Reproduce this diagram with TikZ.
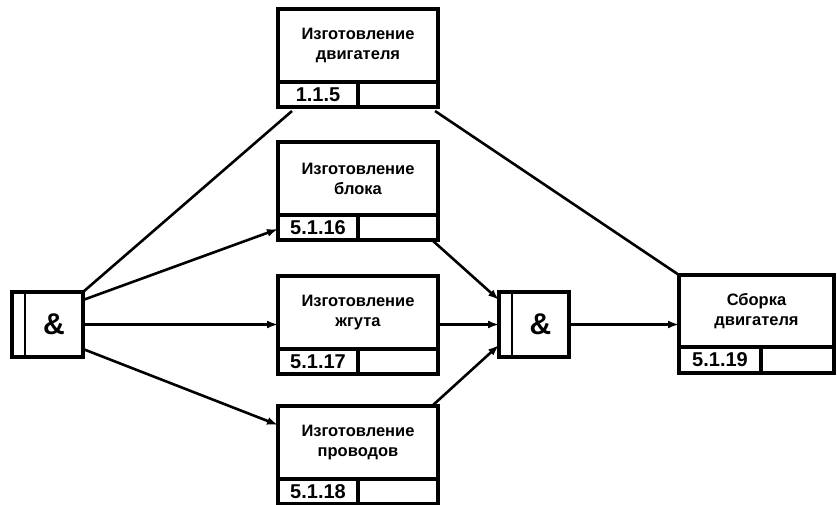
\documentclass[tikz,border=0pt]{standalone}
\usepackage{fontspec}
\setmainfont{Liberation Sans}
\usetikzlibrary{arrows.meta}
\begin{document}
\begin{tikzpicture}[x=1pt,y=-1pt,
  mainbox/.style={draw,line width=3.2pt,minimum width=160pt,minimum height=73pt,inner sep=0pt,outer sep=0pt,anchor=north west,align=center,font=\fontsize{16.5}{20}\selectfont\bfseries},
  idcell/.style={draw,line width=3.2pt,minimum width=80pt,minimum height=25pt,inner sep=0pt,outer sep=0pt,anchor=north west,font=\fontsize{20}{22}\selectfont\bfseries},
  gate/.style={draw,line width=3.2pt,minimum width=70pt,minimum height=65pt,inner sep=0pt,outer sep=0pt,anchor=north west},
  amp/.style={font=\fontsize{30}{31}\selectfont\bfseries,inner sep=0pt},
  link/.style={line width=2.6pt},
  arr/.style={link,-{Latex[length=11pt,width=8pt]}}
]
\useasboundingbox (0,0) rectangle (837,505);

% process boxes
\node[mainbox] (b1) at (278,9) {Изготовление\\двигателя};
\node[idcell] (b1n) at (b1.south west) {1.1.5};
\node[idcell] (b1e) at (b1n.north east) {};

\node[mainbox] (b2) at (278,142) {Изготовление\\блока};
\node[idcell] (b2n) at (b2.south west) {5.1.16};
\node[idcell] (b2e) at (b2n.north east) {};

\node[mainbox] (b3) at (278,276) {Изготовление\\жгута};
\node[idcell] (b3n) at (b3.south west) {5.1.17};
\node[idcell] (b3e) at (b3n.north east) {};

\node[mainbox] (b4) at (278,406) {Изготовление\\проводов};
\node[idcell] (b4n) at (b4.south west) {5.1.18};
\node[idcell] (b4e) at (b4n.north east) {};

\node[mainbox,minimum width=155pt,minimum height=72pt] (b5) at (679,275) {Сборка\\двигателя};
\node[idcell,minimum width=82pt,minimum height=26pt] (b5n) at (b5.south west) {5.1.19};
\node[idcell,minimum width=73pt,minimum height=26pt] (b5e) at (b5n.north east) {};

% junction gates
\node[gate,minimum width=71pt] (gL) at (12,292) {};
\draw[line width=2.6pt] ([xshift=13pt]gL.north west) -- ([xshift=13pt]gL.south west);
\node[amp] (gLa) at ([xshift=6.5pt]gL.center) {\&};

\node[gate,minimum width=70pt] (gR) at (499,292) {};
\draw[line width=2.6pt] ([xshift=13pt]gR.north west) -- ([xshift=13pt]gR.south west);
\node[amp] (gRa) at ([xshift=6.5pt]gR.center) {\&};

% connectors
\draw[link] (gL.north east) -- ([xshift=14pt,yshift=-4pt]b1n.south west);
\draw[arr] ([yshift=-8pt]gL.north east) -- ([yshift=-14pt]b2n.north west);
\draw[arr] (gL.east) -- (gL.east -| b3.west);
\draw[arr] ([yshift=8pt]gL.south east) -- ([yshift=-19pt]b4.north west);

\draw[link] ([xshift=-3pt,yshift=-4pt]b1e.south east) -- (b5.north west);

\draw[arr] ([xshift=-6pt]b2e.south east) -- ([yshift=-8pt]gR.north west);
\draw[arr] (gR.west -| b3.east) -- (gR.west);
\draw[arr] ([xshift=-6pt]b4.north east) -- ([yshift=12pt]gR.south west);
\draw[arr] (gR.east) -- (gR.east -| b5.west);
\end{tikzpicture}
\end{document}
